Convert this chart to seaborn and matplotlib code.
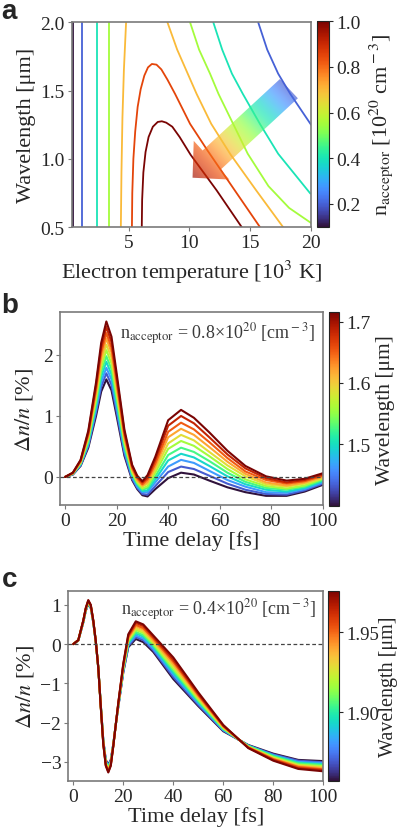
import numpy as np
import pandas as pd
import seaborn as sns
import matplotlib.pyplot as plt
from matplotlib.patches import Polygon
from matplotlib.cm import ScalarMappable
from matplotlib.colors import Normalize

# ---- panel a: iso-lines of acceptor density (T in 10^3 K, wavelength in um)
n_levels = [0.1, 0.2, 0.4, 0.55, 0.7, 0.85, 1.0]

T_n01 = [0.4, 0.4]
L_n01 = [0.5, 2.0]
T_n02_left = [1.18, 1.18]
L_n02_left = [0.5, 2.0]
T_n02_right = [15.66, 16.4, 17.3, 18.3, 20.0]
L_n02_right = [2.0, 1.8, 1.624, 1.475, 1.25]
T_n04_left = [2.41, 2.41]
L_n04_left = [0.5, 2.0]
T_n04_right = [11.97, 12.7, 13.5, 14.4, 15.8, 17.3, 19.95]
L_n04_right = [2.0, 1.8, 1.624, 1.475, 1.256, 1.037, 0.745]
T_n055_left = [3.36, 3.36]
L_n055_left = [0.5, 2.0]
T_n055_right = [10.06, 10.8, 11.7, 12.4, 13.6, 14.8, 16.5, 18.2, 20.0]
L_n055_right = [2.0, 1.8, 1.624, 1.475, 1.256, 1.037, 0.8, 0.64, 0.53]
T_n07_left = [4.37, 4.42, 4.5, 4.62, 4.8]
L_n07_left = [0.5, 0.9, 1.3, 1.65, 2.0]
T_n07_right = [8.2, 9.0, 10.6, 11.8, 13.4, 15.5, 17.7]
L_n07_right = [2.0, 1.8, 1.475, 1.256, 1.03, 0.768, 0.5]
T_n085 = [5.28, 5.31, 5.4, 5.55, 5.75, 6.0, 6.3, 6.6, 6.92, 7.3, 7.7, 8.2, 8.83,
          10.06, 11.5, 13.8, 15.8]
L_n085 = [0.5, 0.75, 1.0, 1.2, 1.38, 1.51, 1.61, 1.67, 1.695, 1.69, 1.655, 1.58,
          1.475, 1.256, 1.06, 0.76, 0.5]
T_n10 = [6.09, 6.12, 6.22, 6.4, 6.65, 7.0, 7.4, 7.74, 8.1, 8.6, 9.2, 10.1, 12.25, 14.3]
L_n10 = [0.5, 0.7, 0.9, 1.05, 1.16, 1.235, 1.27, 1.275, 1.265, 1.235, 1.16, 1.03,
         0.768, 0.5]

segments_a = [
    (0.1, T_n01, L_n01),
    (0.2, T_n02_left, L_n02_left), (0.2, T_n02_right, L_n02_right),
    (0.4, T_n04_left, L_n04_left), (0.4, T_n04_right, L_n04_right),
    (0.55, T_n055_left, L_n055_left), (0.55, T_n055_right, L_n055_right),
    (0.7, T_n07_left, L_n07_left), (0.7, T_n07_right, L_n07_right),
    (0.85, T_n085, L_n085),
    (1.0, T_n10, L_n10),
]

# ---- panel b: n_acceptor = 0.8e20, one row per wavelength
t_b = [0, 3, 6, 9, 12, 14, 16, 18, 20, 23, 26, 28, 30, 32, 35, 40, 45, 50, 56, 63,
       70, 78, 86, 93, 100]
wl_b = [1.400, 1.432, 1.463, 1.495, 1.526, 1.558, 1.589, 1.621, 1.652, 1.684, 1.715]
dn_b = [
    [0, .04, .18, .48, 1.00, 1.40, 1.60, 1.42, 1.00, .35, -.05, -.20, -.30, -.32, -.20, -.02, .07, .04, -.06, -.17, -.25, -.31, -.31, -.24, -.13],
    [0, .04, .19, .51, 1.06, 1.48, 1.70, 1.51, 1.07, .39, -.03, -.18, -.28, -.29, -.15, .08, .17, .13, .02, -.11, -.21, -.28, -.29, -.22, -.11],
    [0, .05, .20, .54, 1.11, 1.56, 1.79, 1.60, 1.14, .44, .00, -.16, -.25, -.25, -.09, .17, .28, .23, .10, -.05, -.16, -.25, -.26, -.20, -.09],
    [0, .05, .21, .56, 1.17, 1.64, 1.89, 1.68, 1.21, .48, .03, -.13, -.23, -.22, -.04, .27, .38, .32, .18, .01, -.12, -.21, -.24, -.18, -.07],
    [0, .05, .22, .59, 1.22, 1.72, 1.98, 1.77, 1.28, .52, .05, -.11, -.21, -.18, .01, .36, .48, .41, .26, .07, -.08, -.18, -.21, -.16, -.05],
    [0, .06, .23, .62, 1.28, 1.80, 2.08, 1.86, 1.35, .57, .08, -.09, -.19, -.15, .07, .46, .59, .51, .34, .13, -.04, -.15, -.19, -.14, -.03],
    [0, .06, .24, .65, 1.33, 1.88, 2.17, 1.95, 1.42, .61, .10, -.07, -.16, -.11, .12, .55, .69, .60, .41, .19, .01, -.12, -.16, -.11, -.02],
    [0, .06, .25, .68, 1.39, 1.96, 2.27, 2.04, 1.49, .65, .13, -.05, -.14, -.08, .17, .65, .79, .69, .49, .25, .05, -.09, -.14, -.09, .00],
    [0, .06, .26, .70, 1.44, 2.04, 2.36, 2.12, 1.56, .69, .15, -.02, -.12, -.04, .22, .74, .89, .78, .57, .31, .09, -.05, -.11, -.07, .02],
    [0, .07, .27, .73, 1.50, 2.12, 2.46, 2.21, 1.63, .74, .18, .00, -.09, -.01, .28, .84, 1.00, .88, .65, .37, .14, -.02, -.09, -.05, .04],
    [0, .07, .28, .76, 1.55, 2.20, 2.55, 2.30, 1.70, .78, .20, .02, -.07, .03, .33, .93, 1.10, .97, .73, .43, .18, .01, -.06, -.03, .06],
]

# ---- panel c: n_acceptor = 0.4e20
t_c = [0, 2, 4, 5, 6, 7, 8, 9, 10, 11, 12, 13, 14, 15, 16, 17, 18, 20, 22, 25, 28,
       32, 40, 50, 60, 70, 80, 90, 100]
wl_c = [1.857, 1.869, 1.881, 1.893, 1.905, 1.917, 1.928, 1.940, 1.952, 1.964, 1.976]
dn_c = [
    [0, .09, .55, .85, 1.02, .92, .55, .05, -.60, -1.55, -2.45, -2.95, -3.07, -2.95, -2.55, -2.05, -1.60, -.72, -.08, .13, .05, -.20, -.89, -1.58, -2.22, -2.57, -2.79, -2.95, -2.98],
    [0, .09, .56, .86, 1.03, .93, .56, .05, -.60, -1.56, -2.46, -2.97, -3.09, -2.97, -2.56, -2.05, -1.59, -.70, -.05, .18, .10, -.16, -.84, -1.55, -2.20, -2.58, -2.81, -2.97, -3.01],
    [0, .09, .56, .86, 1.04, .94, .56, .06, -.60, -1.56, -2.47, -2.98, -3.11, -2.98, -2.56, -2.05, -1.58, -.68, -.01, .22, .14, -.12, -.78, -1.51, -2.19, -2.59, -2.83, -3.00, -3.03],
    [0, .09, .57, .87, 1.05, .94, .57, .06, -.60, -1.57, -2.48, -3.00, -3.13, -3.00, -2.57, -2.05, -1.57, -.65, .02, .27, .19, -.07, -.73, -1.48, -2.17, -2.59, -2.84, -3.02, -3.06],
    [0, .09, .57, .88, 1.06, .95, .57, .06, -.60, -1.57, -2.49, -3.01, -3.15, -3.01, -2.57, -2.05, -1.56, -.63, .05, .31, .23, -.03, -.67, -1.44, -2.16, -2.60, -2.86, -3.04, -3.08],
    [0, .10, .58, .89, 1.07, .96, .58, .07, -.60, -1.58, -2.50, -3.03, -3.17, -3.03, -2.58, -2.05, -1.55, -.61, .09, .36, .28, .01, -.62, -1.41, -2.14, -2.61, -2.88, -3.07, -3.11],
    [0, .10, .58, .89, 1.08, .97, .58, .07, -.60, -1.58, -2.51, -3.04, -3.19, -3.04, -2.58, -2.05, -1.54, -.59, .12, .40, .32, .05, -.56, -1.37, -2.12, -2.62, -2.90, -3.09, -3.14],
    [0, .10, .59, .90, 1.09, .98, .59, .07, -.60, -1.59, -2.52, -3.06, -3.21, -3.06, -2.59, -2.05, -1.53, -.57, .15, .45, .37, .09, -.51, -1.34, -2.11, -2.63, -2.92, -3.11, -3.16],
    [0, .10, .59, .91, 1.10, .98, .59, .07, -.60, -1.59, -2.53, -3.07, -3.23, -3.07, -2.59, -2.05, -1.52, -.54, .18, .49, .41, .14, -.45, -1.30, -2.09, -2.63, -2.93, -3.13, -3.19],
    [0, .10, .60, .91, 1.11, .99, .60, .08, -.60, -1.60, -2.54, -3.09, -3.25, -3.09, -2.60, -2.05, -1.51, -.52, .22, .54, .46, .18, -.40, -1.27, -2.08, -2.64, -2.95, -3.16, -3.21],
    [0, .10, .60, .92, 1.12, 1.00, .60, .08, -.60, -1.60, -2.55, -3.10, -3.27, -3.10, -2.60, -2.05, -1.50, -.50, .25, .58, .50, .22, -.34, -1.23, -2.06, -2.65, -2.97, -3.18, -3.24],
]

df_a = pd.DataFrame(
    [(k, n, x, y) for k, (n, T, L) in enumerate(segments_a) for x, y in zip(T, L)],
    columns=['seg', 'n', 'T', 'lam'])
df_b = pd.DataFrame(
    [(w, t, v) for w, row in zip(wl_b, dn_b) for t, v in zip(t_b, row)],
    columns=['wl', 't', 'dn'])
df_c = pd.DataFrame(
    [(w, t, v) for w, row in zip(wl_c, dn_c) for t, v in zip(t_c, row)],
    columns=['wl', 't', 'dn'])

sns.set_style('ticks')
plt.rcParams['font.family'] = ['Liberation Serif', 'DejaVu Serif']
plt.rcParams['mathtext.fontset'] = 'stix'

GRAY = '#7a7a7a'
TXT = '#262626'
TICK = 14

fig = plt.figure(figsize=(3.97, 8.28), dpi=100)


def style_axes(ax):
    for s in ax.spines.values():
        s.set_color(GRAY)
        s.set_linewidth(1.2)
    ax.tick_params(direction='out', length=3, width=0.8, color=GRAY,
                   labelsize=TICK, labelcolor=TXT, pad=2)


def add_cbar(rect, vmin, vmax, ticks, fmt, label, size, labelpad, ticksize=TICK):
    cax = fig.add_axes(rect)
    cb = fig.colorbar(ScalarMappable(norm=Normalize(vmin, vmax), cmap='turbo'), cax=cax)
    cb.set_ticks(ticks)
    cb.set_ticklabels([fmt.format(v) for v in ticks])
    cb.outline.set_linewidth(0.8)
    cb.outline.set_edgecolor('#222222')
    cax.tick_params(length=3, width=0.8, labelsize=ticksize, labelcolor=TXT, pad=2)
    cb.set_label(label, fontsize=size, color=TXT, labelpad=labelpad)


# ---------------- panel a
ax_a = fig.add_axes([0.1806, 0.7246, 0.6028, 0.2472])
sns.lineplot(data=df_a, x='T', y='lam', hue='n', units='seg', estimator=None,
             sort=False, palette='turbo', hue_norm=(0.1, 1.0), legend=False,
             lw=1.3, ax=ax_a)
ax_a.set_xlim(0.33, 20)
ax_a.set_ylim(0.5, 2.0)
ax_a.set_xticks([5, 10, 15, 20])
ax_a.set_yticks([0.5, 1.0, 1.5, 2.0])
ax_a.set_yticklabels(['0.5', '1.0', '1.5', '2.0'])
ax_a.set_xlabel(r'Electron temperature [10$^3$ K]', fontsize=16, color=TXT, labelpad=5)
ax_a.set_ylabel('Wavelength [μm]', fontsize=16, color=TXT, labelpad=3)
style_axes(ax_a)

# gradient arrow (drawn in axes-fraction space)
ov = ax_a.inset_axes([0, 0, 1, 1])
ov.set_xlim(0, 1)
ov.set_ylim(0, 1)
ov.axis('off')
arrow_xy = [(0.870, 0.723), (0.945, 0.629), (0.622, 0.280), (0.659, 0.232),
            (0.505, 0.241), (0.510, 0.421), (0.547, 0.374)]
poly = Polygon(arrow_xy, closed=True, facecolor='none', edgecolor='none')
ov.add_patch(poly)
gx, gy = np.meshgrid(np.linspace(0, 1, 400), np.linspace(0, 1, 400))
W, H = 239.3, 204.7
tail = (0.9075, 0.676)
tip = (0.505, 0.241)
dx, dy = (tip[0] - tail[0]) * W, (tip[1] - tail[1]) * H
s = ((gx - tail[0]) * W * dx + (gy - tail[1]) * H * dy) / (dx * dx + dy * dy)
grad = np.clip(0.1 + 0.85 * s, 0, 1)
im = ov.imshow(grad, origin='lower', extent=[0, 1, 0, 1], cmap='turbo',
               vmin=0, vmax=1, alpha=0.68, aspect='auto', zorder=5)
im.set_clip_path(poly)

add_cbar([0.7977, 0.7250, 0.0317, 0.2481], 0.1, 1.0, [0.2, 0.4, 0.6, 0.8, 1.0],
         '{:.1f}', r'n$_{\rm acceptor}$ [10$^{20}$ cm$^{\rm -3}$]', 16, 5)

# ---------------- panel b
ax_b = fig.add_axes([0.1511, 0.3889, 0.6617, 0.2327])
sns.lineplot(data=df_b, x='t', y='dn', hue='wl', estimator=None, units='wl',
             palette='turbo', hue_norm=(1.40, 1.715), legend=False, lw=1.5, ax=ax_b)
ax_b.axhline(0, color='#444444', ls='--', lw=0.9, dashes=(3, 2), zorder=10)
ax_b.set_xlim(-2, 100)
ax_b.set_ylim(-0.46, 2.7)
ax_b.set_xticks([0, 20, 40, 60, 80, 100])
ax_b.set_yticks([0, 1, 2])
ax_b.set_xlabel('Time delay [fs]', fontsize=16, color=TXT, labelpad=1)
ax_b.set_ylabel(r'$\Delta n/n$ [%]', fontsize=16, color=TXT, labelpad=6)
ax_b.text(0.971, 0.865, r'n$_{\rm acceptor}$ = 0.8×10$^{20}$ [cm$^{\rm -3}$]',
          transform=ax_b.transAxes, ha='right', va='baseline', fontsize=13, color='#3a3a3a')
style_axes(ax_b)
add_cbar([0.8287, 0.3880, 0.026, 0.2336], 1.40, 1.715, [1.5, 1.6, 1.7],
         '{:.1f}', 'Wavelength [μm]', 15.5, 4)

# ---------------- panel c
ax_c = fig.add_axes([0.1720, 0.0559, 0.6423, 0.2295])
sns.lineplot(data=df_c, x='t', y='dn', hue='wl', estimator=None, units='wl',
             palette='turbo', hue_norm=(1.857, 1.976), legend=False, lw=1.5, ax=ax_c)
ax_c.axhline(0, color='#444444', ls='--', lw=0.9, dashes=(3, 2), zorder=10)
ax_c.set_xlim(-2, 100)
ax_c.set_ylim(-3.48, 1.36)
ax_c.set_xticks([0, 20, 40, 60, 80, 100])
ax_c.set_yticks([1, 0, -1, -2, -3])
ax_c.set_xlabel('Time delay [fs]', fontsize=16, color=TXT, labelpad=1)
ax_c.set_ylabel(r'$\Delta n/n$ [%]', fontsize=16, color=TXT, labelpad=3)
ax_c.text(0.971, 0.877, r'n$_{\rm acceptor}$ = 0.4×10$^{20}$ [cm$^{\rm -3}$]',
          transform=ax_c.transAxes, ha='right', va='baseline', fontsize=13, color='#3a3a3a')
style_axes(ax_c)
add_cbar([0.8270, 0.0559, 0.0277, 0.2295], 1.857, 1.976, [1.90, 1.95],
         '{:.2f}', 'Wavelength [μm]', 14.5, 0, ticksize=13.5)

# panel letters
for lab, y in [('a', 0.977), ('b', 0.6216), ('c', 0.2907)]:
    fig.text(0.004, y, lab, fontsize=20, fontweight='bold', va='baseline',
             family=['Liberation Sans', 'DejaVu Sans'])

fig.savefig('out.png', dpi=100)
